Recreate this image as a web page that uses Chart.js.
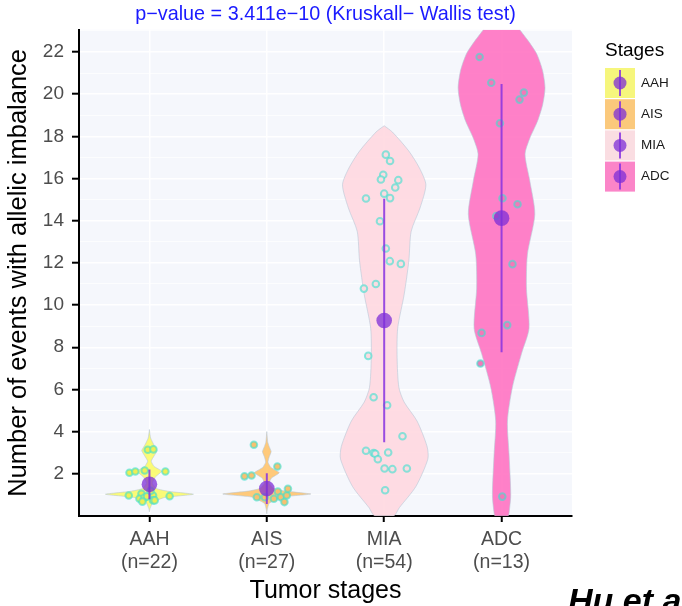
<!DOCTYPE html>
<html>
<head>
<meta charset="utf-8">
<script src="https://cdn.jsdelivr.net/npm/chart.js@4.4.1/dist/chart.umd.min.js"></script>
<style>
  html, body { margin: 0; padding: 0; background: #ffffff; }
</style>
</head>
<body>
<canvas id="violinChart" width="682" height="606"></canvas>
<script>
// categories and labels
const stages = ['AAH', 'AIS', 'MIA', 'ADC'];
const stageCounts = ['(n=22)', '(n=27)', '(n=54)', '(n=13)'];
const yMajorTicks = [2, 4, 6, 8, 10, 12, 14, 16, 18, 20, 22];
const yMinorTicks = [1, 3, 5, 7, 9, 11, 13, 15, 17, 19, 21, 23];

// mean and standard deviation per stage
const stageMeans = [1.5, 1.3, 9.27, 14.12];
const stageSds = [0.71, 0.73, 5.77, 6.36];

// jittered points: horizontal offset from the stage, and value
const aahJitter = [-0.014, 0.034, -0.17, -0.12, -0.04, 0.136, -0.176, -0.068, -0.085, -0.042, 0.031, 0.031, 0.172, -0.02, 0.045, -0.06, 0.01];
const aahValues = [3.14, 3.16, 2.05, 2.11, 2.16, 2.11, 0.97, 1.05, 0.82, 0.87, 0.97, 0.74, 0.94, 0.93, 0.74, 0.68, 1.2];
const aisJitter = [-0.11, 0.09, -0.19, -0.13, -0.085, -0.017, 0.06, 0.094, 0.12, 0.17, 0.18, 0.15];
const aisValues = [3.38, 2.35, 1.88, 1.92, 0.89, 0.89, 0.82, 1.16, 0.89, 0.97, 1.29, 0.66];
const miaJitter = [0.014, 0.05, -0.008, -0.028, 0.12, 0.094, -0.155, 0, 0.05, -0.036, 0.014, 0.048, 0.142, -0.071, -0.173, -0.136, -0.09, 0.025, 0.156, -0.155, -0.09, -0.076, -0.054, 0.034, 0.003, 0.07, 0.193, 0.008];
const miaValues = [17.13, 16.83, 16.18, 15.95, 15.92, 15.57, 15.05, 15.28, 15.07, 13.97, 12.68, 12.08, 11.95, 11.0, 10.78, 7.59, 5.63, 5.25, 3.78, 3.09, 2.99, 2.95, 2.69, 3.01, 2.25, 2.22, 2.25, 1.22];
const adcJitter = [-0.187, -0.088, 0.19, 0.153, -0.014, 0.008, 0.136, -0.045, 0.093, 0.048, -0.17, -0.18, 0.006];
const adcValues = [21.76, 20.54, 20.07, 19.74, 18.62, 15.06, 14.78, 14.22, 11.94, 9.05, 8.68, 7.23, 0.92];

// violin outline: levels (top to bottom) and half width at each level,
// cut at the panel limits where the violin runs past them
const aahLevels = [4.1, 3.7, 3.35, 3.1, 2.85, 2.6, 2.35, 2.12, 1.85, 1.55, 1.3, 1.17, 1.03, 0.88, 0.65, 0.35, 0.2];
const aahHalfWidths = [0, 0.01, 0.04, 0.065, 0.04, 0.015, 0.04, 0.105, 0.05, 0.025, 0.06, 0.16, 0.375, 0.13, 0.03, 0.005, 0];
const aisLevels = [4.0, 3.5, 3.3, 3.05, 2.8, 2.55, 2.3, 2.05, 1.8, 1.55, 1.3, 1.18, 1.04, 0.9, 0.6, 0.3, 0.1];
const aisHalfWidths = [0, 0.008, 0.02, 0.037, 0.02, 0.01, 0.035, 0.106, 0.04, 0.02, 0.06, 0.16, 0.375, 0.13, 0.02, 0.004, 0];
const miaLevels = [18.5, 18.2, 17.3, 16.5, 15.7, 14.6, 13.5, 12.1, 10.5, 8.9, 7.5, 6.1, 5.4, 4.5, 3.3, 2.7, 1.4, 0.4, 0];
const miaHalfWidths = [0, 0.07, 0.21, 0.3, 0.355, 0.305, 0.23, 0.21, 0.17, 0.115, 0.11, 0.125, 0.17, 0.28, 0.365, 0.372, 0.27, 0.13, 0.08];
const adcLevels = [23.05, 22.5, 21.9, 21.1, 20.3, 19.5, 18.7, 17.9, 17.15, 15.9, 14.3, 12.4, 10.8, 8.9, 7.7, 6.1, 4.5, 2.9, 1.0, 0.2, 0];
const adcHalfWidths = [0.155, 0.23, 0.3, 0.35, 0.37, 0.35, 0.305, 0.24, 0.2, 0.24, 0.283, 0.22, 0.212, 0.234, 0.17, 0.092, 0.05, 0.064, 0.078, 0.065, 0.055];

const stageJitter = [aahJitter, aisJitter, miaJitter, adcJitter];
const stageValues = [aahValues, aisValues, miaValues, adcValues];
const stageLevels = [aahLevels, aisLevels, miaLevels, adcLevels];
const stageHalfWidths = [aahHalfWidths, aisHalfWidths, miaHalfWidths, adcHalfWidths];

// colours
const violinFill = ['rgba(250,250,100,0.88)', 'rgba(255,195,105,0.88)', 'rgba(255,214,222,0.85)', 'rgba(255,112,192,0.88)'];
const legendFill = ['#f6f67c', '#fbc97c', '#fadde2', '#fb85c8'];
const pointFill = ['#eeee55', '#f8c070', '#fbdce1', '#f478b8'];
const purple = 'rgba(125,45,215,0.75)';

Chart.defaults.font.family = "'Liberation Sans', Arial, sans-serif";

const datasets = [];
stages.forEach((stage, i) => {
    const lv = stageLevels[i];
    const hw = stageHalfWidths[i];
    const right = lv.map((v, k) => ({ x: i + hw[k], y: v }));
    const left = lv.map((v, k) => ({ x: i - hw[k], y: v })).reverse();
    datasets.push({
        type: 'line',
        label: stage,
        data: right.concat(left),
        fill: 'shape',
        backgroundColor: violinFill[i],
        borderColor: 'rgba(185,200,215,0.6)',
        borderWidth: 1,
        pointRadius: 0,
        tension: i < 2 ? 0.15 : 0.25,
        order: 4
    });
    datasets.push({
        type: 'scatter',
        label: stage + ' points',
        data: stageValues[i].map((v, k) => ({ x: i + stageJitter[i][k], y: v })),
        backgroundColor: pointFill[i],
        borderColor: 'rgba(64,224,208,0.62)',
        borderWidth: 2,
        pointRadius: 3.3,
        order: 3
    });
    datasets.push({
        type: 'line',
        label: stage + ' sd',
        data: [{ x: i, y: stageMeans[i] - stageSds[i] }, { x: i, y: stageMeans[i] + stageSds[i] }],
        borderColor: 'rgba(135,50,225,0.85)',
        borderWidth: 2,
        pointRadius: 0,
        fill: false,
        order: 2
    });
});
datasets.push({
    type: 'scatter',
    label: 'mean',
    data: stageMeans.map((m, i) => ({ x: i, y: m })),
    backgroundColor: purple,
    borderWidth: 0,
    pointRadius: 7.8,
    order: 1
});

// panel background, legend and the cut off caption
const extras = {
    id: 'extras',
    beforeDraw(chart) {
        const { ctx, chartArea: a } = chart;
        ctx.save();
        ctx.fillStyle = '#f5f7fc';
        ctx.fillRect(a.left, a.top, a.right - a.left, a.bottom - a.top);
        ctx.restore();
    },
    afterDraw(chart) {
        const ctx = chart.ctx;
        ctx.save();
        ctx.textBaseline = 'middle';
        ctx.fillStyle = '#000000';
        ctx.font = "19px 'Liberation Sans', Arial, sans-serif";
        ctx.fillText('Stages', 605, 51);
        stages.forEach((stage, i) => {
            const top = 68 + i * 31.2;
            ctx.fillStyle = legendFill[i];
            ctx.fillRect(605, top, 30, 30);
            ctx.strokeStyle = 'rgba(135,50,225,0.85)';
            ctx.lineWidth = 2;
            ctx.beginPath();
            ctx.moveTo(620, top + 2);
            ctx.lineTo(620, top + 28);
            ctx.stroke();
            ctx.fillStyle = purple;
            ctx.beginPath();
            ctx.arc(620, top + 15, 6.5, 0, Math.PI * 2);
            ctx.fill();
            ctx.fillStyle = '#1a1a1a';
            ctx.font = "13.5px 'Liberation Sans', Arial, sans-serif";
            ctx.fillText(stage, 641, top + 15);
        });
        ctx.fillStyle = '#000000';
        ctx.font = "italic bold 34px 'Liberation Sans', Arial, sans-serif";
        ctx.textBaseline = 'alphabetic';
        ctx.fillText('Hu et al.', 568, 612);
        ctx.restore();
    }
};

new Chart(document.getElementById('violinChart').getContext('2d'), {
    type: 'scatter',
    data: { datasets: datasets },
    options: {
        responsive: false,
        animation: false,
        events: [],
        layout: { padding: { left: 0, right: 110, top: 0, bottom: 0 } },
        plugins: {
            legend: { display: false },
            tooltip: { enabled: false },
            title: {
                display: true,
                fullSize: false,
                text: 'p\u2212value = 3.411e\u221210 (Kruskall\u2212 Wallis test)',
                color: '#1a1aff',
                font: { size: 19.8, weight: 'normal' },
                padding: { top: 3, bottom: 3 }
            }
        },
        scales: {
            x: {
                type: 'linear',
                min: -0.6,
                max: 3.6,
                afterBuildTicks: (scale) => { scale.ticks = stages.map((s, i) => ({ value: i })); },
                afterFit: (scale) => { scale.height = 90; },
                ticks: {
                    autoSkip: false,
                    maxRotation: 0,
                    padding: 6,
                    color: '#4d4d4d',
                    font: { size: 19.5 },
                    callback: (value) => [stages[value], stageCounts[value]]
                },
                grid: { color: '#ffffff', lineWidth: 1.5, tickColor: '#000000', tickWidth: 2, tickLength: 6 },
                border: { color: '#000000', width: 2 },
                title: { display: true, text: 'Tumor stages', color: '#000000', font: { size: 25 }, padding: { top: 0, bottom: 0 } }
            },
            y: {
                type: 'linear',
                min: 0,
                max: 23.05,
                afterBuildTicks: (scale) => {
                    scale.ticks = yMinorTicks.concat(yMajorTicks).sort((a, b) => a - b).map(v => ({ value: v }));
                },
                afterFit: (scale) => { scale.width = 79; },
                ticks: {
                    autoSkip: false,
                    padding: 8,
                    color: '#4d4d4d',
                    font: { size: 19 },
                    callback: (value) => yMajorTicks.includes(value) ? String(value) : ''
                },
                grid: {
                    color: '#ffffff',
                    lineWidth: (ctx) => yMajorTicks.includes(ctx.tick.value) ? 1.4 : 0.7,
                    tickColor: (ctx) => yMajorTicks.includes(ctx.tick.value) ? '#000000' : 'rgba(0,0,0,0)',
                    tickWidth: 2,
                    tickLength: 7
                },
                border: { color: '#000000', width: 2 },
                title: { display: true, text: 'Number of events with allelic imbalance', color: '#000000', font: { size: 25.5 }, padding: { top: 4, bottom: 0 } }
            }
        }
    },
    plugins: [extras]
});
</script>
</body>
</html>
